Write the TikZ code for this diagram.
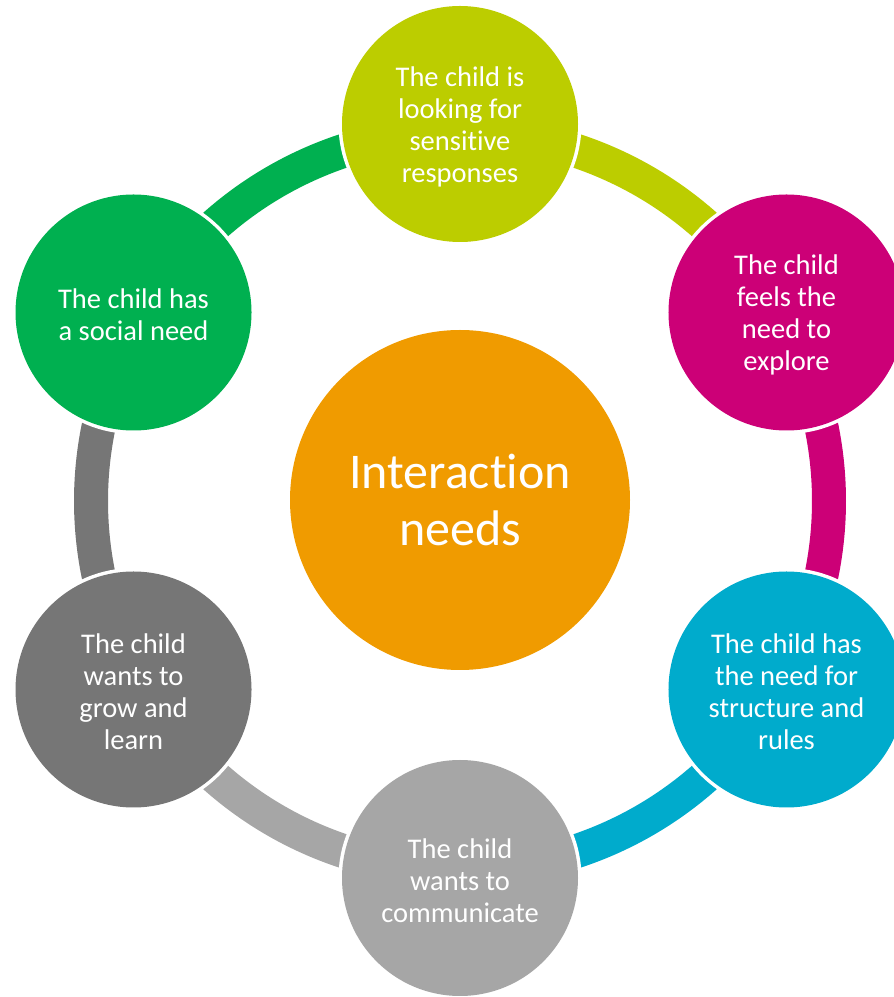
\documentclass[tikz,border=0pt]{standalone}
\usepackage{fontspec}
\setmainfont{Carlito}[Ligatures=NoCommon]
\usetikzlibrary{calc}

\definecolor{cLime}{HTML}{BCCD00}
\definecolor{cMagenta}{HTML}{CC0077}
\definecolor{cCyan}{HTML}{00ABCC}
\definecolor{cLightGray}{HTML}{A6A6A6}
\definecolor{cDarkGray}{HTML}{767676}
\definecolor{cGreen}{HTML}{00B050}
\definecolor{cOrange}{HTML}{F09B00}

\begin{document}
\begin{tikzpicture}[x=1pt,y=1pt,
  bubble/.style={circle, minimum size=236pt, inner sep=0pt,
    preaction={draw=white, line width=7pt}, fill=#1},
  caption/.style={inner sep=0pt, text=white, align=center,
    font=\fontsize{28.5}{32}\selectfont},
  hub/.style={circle, minimum size=340pt, inner sep=0pt, text=white,
    align=center, font=\fontsize{50}{57}\selectfont, fill=#1},
  band/.style={draw=#1, line width=34pt}
]
\useasboundingbox (0,0) rectangle (894,997);

% ring centre and radii
\coordinate (ring) at (460,496);
\def\bandR{369}
\def\nodeR{377}

% coloured ring segments, one per step, clockwise
\draw[band=cLime]      ($(ring)+(90:\bandR)$)   arc[start angle=90,  end angle=30,   radius=\bandR];
\draw[band=cMagenta]   ($(ring)+(30:\bandR)$)   arc[start angle=30,  end angle=-30,  radius=\bandR];
\draw[band=cCyan]      ($(ring)+(-30:\bandR)$)  arc[start angle=-30, end angle=-90,  radius=\bandR];
\draw[band=cLightGray] ($(ring)+(-90:\bandR)$)  arc[start angle=-90, end angle=-150, radius=\bandR];
\draw[band=cDarkGray]  ($(ring)+(-150:\bandR)$) arc[start angle=-150,end angle=-210, radius=\bandR];
\draw[band=cGreen]     ($(ring)+(150:\bandR)$)  arc[start angle=150, end angle=90,   radius=\bandR];

% central circle
\node[hub=cOrange] (hub) at (460,497) {Interaction\\needs};

% step circles
\node[bubble=cLime]      (sensitive)   at ($(ring)+(90:\nodeR)$)   {};
\node[bubble=cMagenta]   (explore)     at ($(ring)+(30:\nodeR)$)   {};
\node[bubble=cCyan]      (structure)   at ($(ring)+(-30:\nodeR)$)  {};
\node[bubble=cLightGray] (communicate) at ($(ring)+(-90:\nodeR)$)  {};
\node[bubble=cDarkGray]  (grow)        at ($(ring)+(-150:\nodeR)$) {};
\node[bubble=cGreen]     (social)      at ($(ring)+(150:\nodeR)$)  {};

% step texts
\node[caption] (sensitive-t)   at ([yshift=-2.5pt]sensitive.center)   {The child is\\looking for\\sensitive\\responses};
\node[caption] (explore-t)     at ([yshift=-2.5pt]explore.center)     {The child\\feels the\\need to\\explore};
\node[caption] (structure-t)   at ([yshift=-2.5pt]structure.center)   {The child has\\the need for\\structure and\\rules};
\node[caption] (communicate-t) at ([yshift=-2.5pt]communicate.center) {The child\\wants to\\communicate};
\node[caption] (grow-t)        at ([yshift=-2.5pt]grow.center)        {The child\\wants to\\grow and\\learn};
\node[caption] (social-t)      at ([yshift=-2.5pt]social.center)      {The child has\\a social need};
\end{tikzpicture}
\end{document}
